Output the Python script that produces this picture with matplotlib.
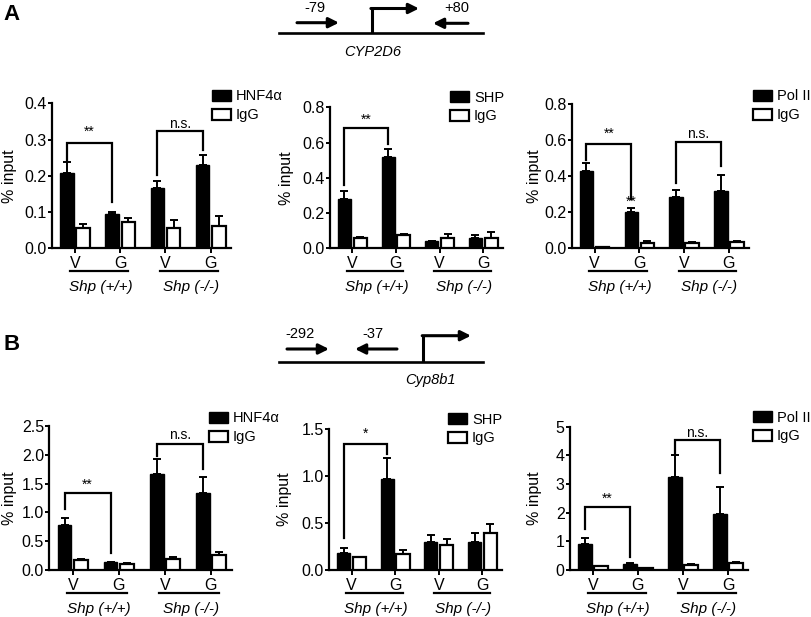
import numpy as np
import matplotlib
matplotlib.use("Agg")
import matplotlib.pyplot as plt
from matplotlib.patches import Patch

plt.rcParams['font.family'] = ['Liberation Sans', 'DejaVu Sans']

W, H = 812, 617

# ---------------- data ----------------
conditions = ['V', 'G', 'V', 'G']
genotypes = ['Shp (+/+)', 'Shp (-/-)']

# Panel A (CYP2D6)
a1_label = 'HNF4α'
a1_ab = [0.209, 0.095, 0.165, 0.230]
a1_ab_err = [0.030, 0.006, 0.022, 0.027]
a1_igg = [0.056, 0.073, 0.056, 0.062]
a1_igg_err = [0.011, 0.010, 0.023, 0.026]
a1_yticks = [0.0, 0.1, 0.2, 0.3, 0.4]
a1_brackets = [('**', 0, 1, 0.291, 0.244, 0.129, 0.322),
               ('n.s.', 2, 3, 0.324, 0.202, 0.271, 0.342)]

a2_label = 'SHP'
a2_ab = [0.279, 0.517, 0.043, 0.060]
a2_ab_err = [0.047, 0.045, 0.0, 0.015]
a2_igg = [0.057, 0.075, 0.057, 0.060]
a2_igg_err = [0.009, 0.008, 0.022, 0.030]
a2_yticks = [0.0, 0.2, 0.4, 0.6, 0.8]
a2_brackets = [('**', 0, 1, 0.683, 0.358, 0.594, 0.73)]

a3_label = 'Pol II'
a3_ab = [0.429, 0.200, 0.282, 0.317]
a3_ab_err = [0.041, 0.025, 0.041, 0.086]
a3_igg = [0.005, 0.030, 0.030, 0.033]
a3_igg_err = [0.0, 0.013, 0.005, 0.006]
a3_yticks = [0.0, 0.2, 0.4, 0.6, 0.8]
a3_brackets = [('**', 0, 1, 0.577, 0.486, 0.275, 0.63),
               ('n.s.', 2, 3, 0.585, 0.362, 0.455, 0.63)]
a3_stars = [('**', 1, 0.256)]

# Panel B (Cyp8b1)
b1_label = 'HNF4α'
b1_ab = [0.781, 0.133, 1.667, 1.337]
b1_ab_err = [0.128, 0.012, 0.260, 0.272]
b1_igg = [0.174, 0.098, 0.191, 0.266]
b1_igg_err = [0.011, 0.018, 0.040, 0.052]
b1_yticks = [0.0, 0.5, 1.0, 1.5, 2.0, 2.5]
b1_brackets = [('**', 0, 1, 1.343, 1.053, 0.289, 1.476),
               ('n.s.', 2, 3, 2.18, 1.98, 1.748, 2.34)]

b2_label = 'SHP'
b2_ab = [0.184, 0.965, 0.301, 0.301]
b2_ab_err = [0.054, 0.234, 0.075, 0.096]
b2_igg = [0.135, 0.170, 0.262, 0.394]
b2_igg_err = [0.007, 0.046, 0.064, 0.092]
b2_yticks = [0.0, 0.5, 1.0, 1.5]
b2_brackets = [('*', 0, 1, 1.348, 0.337, 1.241, 1.45)]

b3_label = 'Pol II'
b3_ab = [0.92, 0.22, 3.25, 1.96]
b3_ab_err = [0.20, 0.025, 0.76, 0.95]
b3_igg = [0.14, 0.08, 0.175, 0.256]
b3_igg_err = [0.01, 0.005, 0.025, 0.034]
b3_yticks = [0, 1, 2, 3, 4, 5]
b3_brackets = [('**', 0, 1, 2.2, 1.42, 0.466, 2.47),
               ('n.s.', 2, 3, 4.55, 4.04, 3.38, 4.77)]

# ---------------- figure ----------------
fig = plt.figure(figsize=(W / 100, H / 100), dpi=100)
FS_Y = 11.5
FS_X = 11.5
FS_G = 11
FS_LEG = 10.5
FS_LAB = 11.5
FS_SIG = 10
OFF = 0.18
BW = 0.3


def add_ax(l, t, r, b):
    return fig.add_axes([l / W, 1 - b / H, (r - l) / W, (b - t) / H])


def panel(box, label, ab, ab_err, igg, igg_err, yticks, fmt, brackets,
          leg_xy, ylab_x, stars=()):
    l, t, r, b = box
    hpx = b - t
    ax = add_ax(l, t, r, b)
    x = np.arange(len(conditions))
    ax.bar(x - OFF, ab, BW, color='black', edgecolor='black', lw=1.0, zorder=3)
    ax.bar(x + OFF, igg, BW, color='white', edgecolor='black', lw=1.6, zorder=3)
    ax.errorbar(x - OFF, ab, yerr=[np.zeros(4), ab_err], fmt='none',
                ecolor='black', elinewidth=1.4, capsize=2.6, capthick=1.4, zorder=2)
    ax.errorbar(x + OFF, igg, yerr=[np.zeros(4), igg_err], fmt='none',
                ecolor='black', elinewidth=1.4, capsize=2.6, capthick=1.4, zorder=2)
    ax.set_xlim(-0.51, 3.45)
    ax.set_ylim(yticks[0], yticks[-1])
    ax.set_yticks(yticks)
    ax.set_yticklabels([fmt.format(v) for v in yticks])
    ax.set_xticks(x)
    ax.set_xticklabels(conditions)
    for s in ['top', 'right']:
        ax.spines[s].set_visible(False)
    for s in ['left', 'bottom']:
        ax.spines[s].set_linewidth(1.6)
    ax.tick_params(axis='y', length=3, width=1.4, pad=0.8, labelsize=FS_Y)
    ax.tick_params(axis='x', length=3.5, width=1.4, pad=2.0, labelsize=FS_X)
    ax.patch.set_visible(False)
    # genotype underlines and labels
    tr = ax.get_xaxis_transform()
    for gi, g in enumerate(genotypes):
        x0 = x[2 * gi] - 0.12
        x1 = x[2 * gi + 1] + 0.17
        ax.plot([x0, x1], [-23 / hpx] * 2, color='black', lw=1.6,
                transform=tr, clip_on=False)
        ax.text((x[2 * gi] + x[2 * gi + 1]) / 2 + 0.06, -39 / hpx, g,
                transform=tr, ha='center', va='center', style='italic',
                fontsize=FS_G)
    # significance brackets
    for txt, i0, i1, top, lb, rb, ty in brackets:
        xa = x[i0] - OFF
        xb = x[i1] - OFF
        ax.plot([xa, xa, xb, xb], [lb, top, top, rb], color='black', lw=1.6,
                clip_on=False, zorder=4, solid_joinstyle='miter')
        ax.text((xa + xb) / 2, ty, txt, ha='center', va='center',
                fontsize=FS_SIG)
    for txt, i, ty in stars:
        ax.text(x[i] - OFF, ty, txt, ha='center', va='center', fontsize=FS_SIG)
    # legend
    handles = [Patch(facecolor='black', edgecolor='black', lw=1.0),
               Patch(facecolor='white', edgecolor='black', lw=1.6)]
    ax.legend(handles, [label, 'IgG'], loc='upper left',
              bbox_to_anchor=(leg_xy[0] / W, 1 - leg_xy[1] / H),
              bbox_transform=fig.transFigure, frameon=False, borderpad=0,
              borderaxespad=0, handlelength=1.3, handleheight=0.78,
              handletextpad=0.35, labelspacing=0.32, fontsize=FS_LEG)
    fig.text(ylab_x / W, 1 - ((t + b) / 2) / H, '% input', rotation=90,
             ha='center', va='center', fontsize=FS_LAB)
    return ax


panel((52, 103.3, 231, 248.3), a1_label, a1_ab, a1_ab_err, a1_igg, a1_igg_err,
      a1_yticks, '{:.1f}', a1_brackets, (212, 89.5), 10)
panel((330, 107.3, 503, 248.3), a2_label, a2_ab, a2_ab_err, a2_igg, a2_igg_err,
      a2_yticks, '{:.1f}', a2_brackets, (450, 90.5), 287)
panel((571.7, 103.5, 749, 248.3), a3_label, a3_ab, a3_ab_err, a3_igg, a3_igg_err,
      a3_yticks, '{:.1f}', a3_brackets, (753, 89.5), 534, stars=a3_stars)
panel((49.3, 426, 231.7, 570), b1_label, b1_ab, b1_ab_err, b1_igg, b1_igg_err,
      b1_yticks, '{:.1f}', b1_brackets, (209, 411.5), 10)
panel((329.3, 429.3, 502, 570), b2_label, b2_ab, b2_ab_err, b2_igg, b2_igg_err,
      b2_yticks, '{:.1f}', b2_brackets, (448, 412.5), 285)
panel((570, 426.7, 748.3, 570), b3_label, b3_ab, b3_ab_err, b3_igg, b3_igg_err,
      b3_yticks, '{:d}', b3_brackets, (753, 410.5), 534)

# ---------------- gene diagrams ----------------
ov = fig.add_axes([0, 0, 1, 1])
ov.set_xlim(0, W)
ov.set_ylim(H, 0)
ov.axis('off')
ov.patch.set_visible(False)


def arrow(x0, x1, y):
    ov.annotate('', xy=(x1, y), xytext=(x0, y),
                arrowprops=dict(arrowstyle='-|>', lw=2.2, color='black',
                                mutation_scale=15, shrinkA=0, shrinkB=0))


def tss(x, ybase, ytop, xend):
    ov.plot([x, x], [ybase, ytop], color='black', lw=2.2,
            solid_capstyle='butt')
    ov.annotate('', xy=(xend, ytop), xytext=(x - 0.8, ytop),
                arrowprops=dict(arrowstyle='-|>', lw=2.2, color='black',
                                mutation_scale=15, shrinkA=0, shrinkB=0))


FS_D = 10.5
# A: CYP2D6
ov.plot([279, 483], [33.3, 33.3], color='black', lw=1.9)
arrow(297, 339, 22.7)
arrow(468, 433, 23.3)
tss(371.7, 33.3, 8.5, 419)
ov.text(315, 7.5, '-79', ha='center', va='center', fontsize=FS_D)
ov.text(457, 7.5, '+80', ha='center', va='center', fontsize=FS_D)
ov.text(373, 52, 'CYP2D6', ha='center', va='center', style='italic', fontsize=FS_D)

# B: Cyp8b1
ov.plot([279, 483], [361.7, 361.7], color='black', lw=1.9)
arrow(287, 329, 349)
arrow(397, 355, 349)
tss(423, 361.7, 335.7, 471)
ov.text(300, 334.5, '-292', ha='center', va='center', fontsize=FS_D)
ov.text(373, 334.5, '-37', ha='center', va='center', fontsize=FS_D)
ov.text(430, 380, 'Cyp8b1', ha='center', va='center', style='italic', fontsize=FS_D)

# panel letters
ov.text(12, 15, 'A', ha='center', va='center', fontweight='bold', fontsize=16)
ov.text(12, 345, 'B', ha='center', va='center', fontweight='bold', fontsize=16)

fig.savefig('out.png', dpi=100)
